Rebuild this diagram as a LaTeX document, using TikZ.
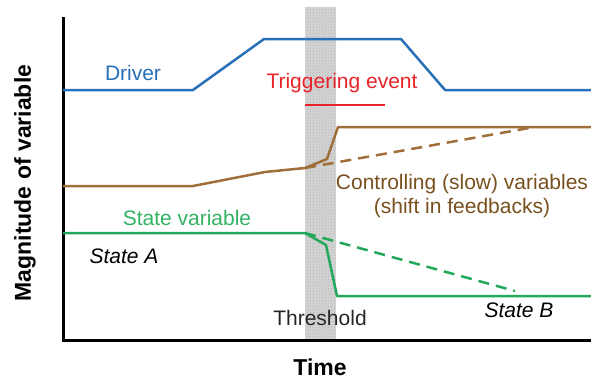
\documentclass[tikz,border=0pt]{standalone}
\usepackage{fontspec}
\setmainfont{Liberation Sans}
\usetikzlibrary{patterns}
\definecolor{drvblue}{RGB}{40,112,184}
\definecolor{trgred}{RGB}{232,36,40}
\definecolor{ctlbrown}{RGB}{160,110,56}
\definecolor{ctltext}{RGB}{120,80,30}
\definecolor{stgreen}{RGB}{34,168,90}
\definecolor{sttext}{RGB}{52,178,100}
\definecolor{bandgray}{RGB}{212,212,212}
\begin{document}
\begin{tikzpicture}[x=1pt,y=-1pt,
  curve/.style={line width=2.5pt,line join=round},
  dashcurve/.style={line width=2.5pt,dash pattern=on 11pt off 7pt},
  lbl/.style={font=\fontsize{21}{24}\selectfont,inner sep=0pt},
  axlbl/.style={font=\fontsize{23}{26}\selectfont\bfseries,inner sep=0pt}]
\useasboundingbox (0,0) rectangle (591,380);
% threshold band
\fill[bandgray] (305,7) rectangle (336,340);
\fill[pattern=crosshatch dots,pattern color=gray!60] (305,7) rectangle (336,340);
% axes
\draw[line width=3pt] (63,17) -- (63,340) -- (591,340);
% driver
\draw[curve,drvblue] (63,90) -- (193,90) -- (264,39) -- (401,39) -- (445,90) -- (591,90);
% triggering event line
\coordinate (tA) at (305,105);
\coordinate (tB) at (385,105);
\draw[line width=2.4pt,trgred] (tA) -- (tB);
% controlling variable
\coordinate (cS) at (305,168);
\draw[curve,ctlbrown] (63,186) -- (193,186) -- (265,172) -- (cS) -- (327,159) -- (338,127) -- (591,127);
\draw[dashcurve,ctlbrown] (cS) -- (529,128);
% state variable
\coordinate (sS) at (305,233);
\draw[curve,stgreen] (63,233) -- (sS) -- (326,245) -- (337,296) -- (591,296);
\draw[dashcurve,stgreen] (sS) -- (515,291);
% labels
\node[lbl,drvblue] (driver) at (133,73) {Driver};
\node[lbl,trgred] (trig) at (342,83) {Triggering event};
\node[lbl,ctltext,align=center] (ctl) at (462,196) {Controlling (slow) variables\\(shift in feedbacks)};
\node[lbl,sttext] (stvar) at (187,218) {State variable};
\node[lbl,font=\fontsize{21}{24}\selectfont\itshape] (stA) at (124,256) {State A};
\node[lbl,font=\fontsize{21}{24}\selectfont\itshape] (stB) at (519,310) {State B};
\node[lbl,black!85] (thr) at (320,318) {Threshold};
\node[axlbl] (time) at (320,367) {Time};
\node[axlbl,rotate=90] (mag) at (25,183) {Magnitude of variable};
\end{tikzpicture}
\end{document}
